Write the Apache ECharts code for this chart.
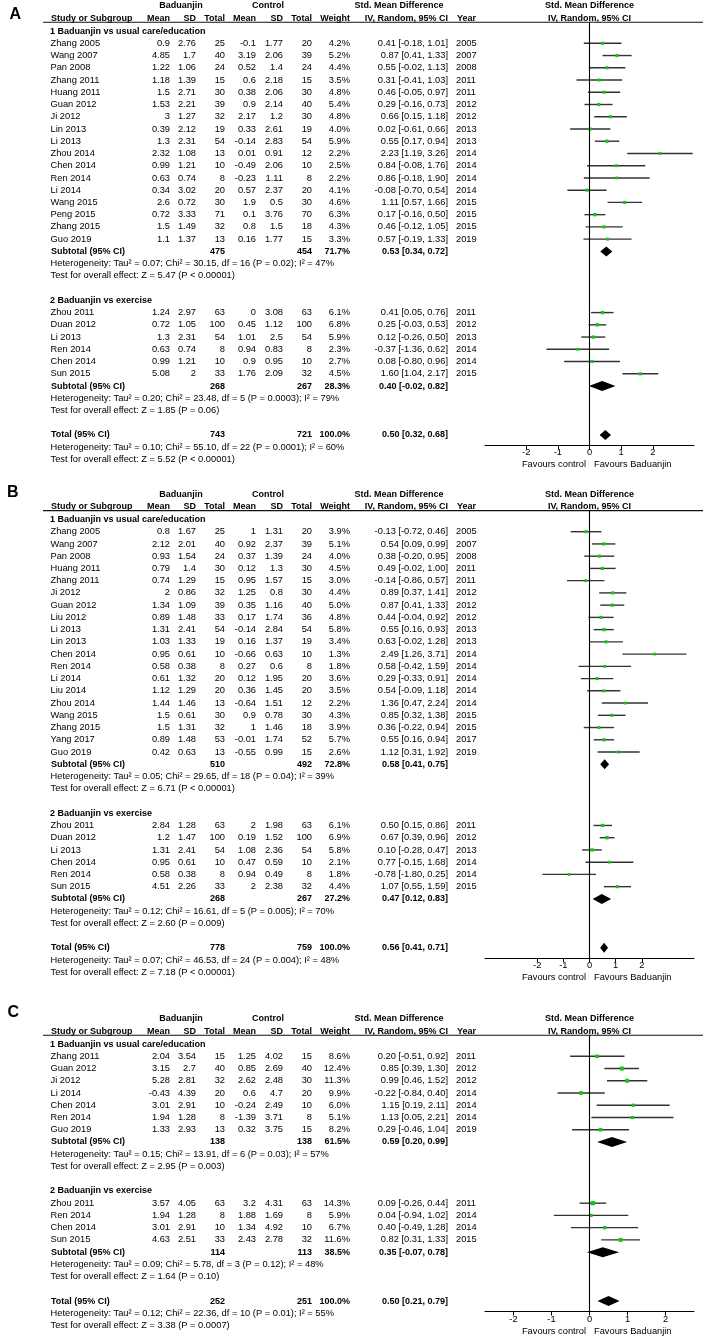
<!DOCTYPE html>
<html><head><meta charset="utf-8">
<script src="https://cdn.jsdelivr.net/npm/echarts@6/dist/echarts.min.js"></script>
<style>html,body{margin:0;padding:0;background:#fff}#c{width:704px;height:1339px}</style>
</head><body><div id="c"></div>
<script>
// ---------- DATA ----------
// row: [study, B mean, B SD, B total, C mean, C SD, C total, weight %, SMD, CI low, CI high, year]
const A_g1 = [
 ["Zhang 2005",0.9,2.76,25,-0.1,1.77,20,4.2,0.41,-0.18,1.01,2005],
 ["Wang 2007",4.85,1.7,40,3.19,2.06,39,5.2,0.87,0.41,1.33,2007],
 ["Pan 2008",1.22,1.06,24,0.52,1.4,24,4.4,0.55,-0.02,1.13,2008],
 ["Zhang 2011",1.18,1.39,15,0.6,2.18,15,3.5,0.31,-0.41,1.03,2011],
 ["Huang 2011",1.5,2.71,30,0.38,2.06,30,4.8,0.46,-0.05,0.97,2011],
 ["Guan 2012",1.53,2.21,39,0.9,2.14,40,5.4,0.29,-0.16,0.73,2012],
 ["Ji 2012",3,1.27,32,2.17,1.2,30,4.8,0.66,0.15,1.18,2012],
 ["Lin 2013",0.39,2.12,19,0.33,2.61,19,4.0,0.02,-0.61,0.66,2013],
 ["Li 2013",1.3,2.31,54,-0.14,2.83,54,5.9,0.55,0.17,0.94,2013],
 ["Zhou 2014",2.32,1.08,13,0.01,0.91,12,2.2,2.23,1.19,3.26,2014],
 ["Chen 2014",0.99,1.21,10,-0.49,2.06,10,2.5,0.84,-0.08,1.76,2014],
 ["Ren 2014",0.63,0.74,8,-0.23,1.11,8,2.2,0.86,-0.18,1.90,2014],
 ["Li 2014",0.34,3.02,20,0.57,2.37,20,4.1,-0.08,-0.70,0.54,2014],
 ["Wang 2015",2.6,0.72,30,1.9,0.5,30,4.6,1.11,0.57,1.66,2015],
 ["Peng 2015",0.72,3.33,71,0.1,3.76,70,6.3,0.17,-0.16,0.50,2015],
 ["Zhang 2015",1.5,1.49,32,0.8,1.5,18,4.3,0.46,-0.12,1.05,2015],
 ["Guo 2019",1.1,1.37,13,0.16,1.77,15,3.3,0.57,-0.19,1.33,2019]
];
const A_g1_sub = [475,454,71.7,0.53,0.34,0.72];
const A_g1_het = "Heterogeneity: Tau² = 0.07; Chi² = 30.15, df = 16 (P = 0.02); I² = 47%";
const A_g1_z = "Test for overall effect: Z = 5.47 (P < 0.00001)";
const A_g2 = [
 ["Zhou 2011",1.24,2.97,63,0,3.08,63,6.1,0.41,0.05,0.76,2011],
 ["Duan 2012",0.72,1.05,100,0.45,1.12,100,6.8,0.25,-0.03,0.53,2012],
 ["Li 2013",1.3,2.31,54,1.01,2.5,54,5.9,0.12,-0.26,0.50,2013],
 ["Ren 2014",0.63,0.74,8,0.94,0.83,8,2.3,-0.37,-1.36,0.62,2014],
 ["Chen 2014",0.99,1.21,10,0.9,0.95,10,2.7,0.08,-0.80,0.96,2014],
 ["Sun 2015",5.08,2,33,1.76,2.09,32,4.5,1.60,1.04,2.17,2015]
];
const A_g2_sub = [268,267,28.3,0.40,-0.02,0.82];
const A_g2_het = "Heterogeneity: Tau² = 0.20; Chi² = 23.48, df = 5 (P = 0.0003); I² = 79%";
const A_g2_z = "Test for overall effect: Z = 1.85 (P = 0.06)";
const A_tot = [743,721,100.0,0.50,0.32,0.68];
const A_tot_het = "Heterogeneity: Tau² = 0.10; Chi² = 55.10, df = 22 (P = 0.0001); I² = 60%";
const A_tot_z = "Test for overall effect: Z = 5.52 (P < 0.00001)";

const B_g1 = [
 ["Zhang 2005",0.8,1.67,25,1,1.31,20,3.9,-0.13,-0.72,0.46,2005],
 ["Wang 2007",2.12,2.01,40,0.92,2.37,39,5.1,0.54,0.09,0.99,2007],
 ["Pan 2008",0.93,1.54,24,0.37,1.39,24,4.0,0.38,-0.20,0.95,2008],
 ["Huang 2011",0.79,1.4,30,0.12,1.3,30,4.5,0.49,-0.02,1.00,2011],
 ["Zhang 2011",0.74,1.29,15,0.95,1.57,15,3.0,-0.14,-0.86,0.57,2011],
 ["Ji 2012",2,0.86,32,1.25,0.8,30,4.4,0.89,0.37,1.41,2012],
 ["Guan 2012",1.34,1.09,39,0.35,1.16,40,5.0,0.87,0.41,1.33,2012],
 ["Liu 2012",0.89,1.48,33,0.17,1.74,36,4.8,0.44,-0.04,0.92,2012],
 ["Li 2013",1.31,2.41,54,-0.14,2.84,54,5.8,0.55,0.16,0.93,2013],
 ["Lin 2013",1.03,1.33,19,0.16,1.37,19,3.4,0.63,-0.02,1.28,2013],
 ["Chen 2014",0.95,0.61,10,-0.66,0.63,10,1.3,2.49,1.26,3.71,2014],
 ["Ren 2014",0.58,0.38,8,0.27,0.6,8,1.8,0.58,-0.42,1.59,2014],
 ["Li 2014",0.61,1.32,20,0.12,1.95,20,3.6,0.29,-0.33,0.91,2014],
 ["Liu 2014",1.12,1.29,20,0.36,1.45,20,3.5,0.54,-0.09,1.18,2014],
 ["Zhou 2014",1.44,1.46,13,-0.64,1.51,12,2.2,1.36,0.47,2.24,2014],
 ["Wang 2015",1.5,0.61,30,0.9,0.78,30,4.3,0.85,0.32,1.38,2015],
 ["Zhang 2015",1.5,1.31,32,1,1.46,18,3.9,0.36,-0.22,0.94,2015],
 ["Yang 2017",0.89,1.48,53,-0.01,1.74,52,5.7,0.55,0.16,0.94,2017],
 ["Guo 2019",0.42,0.63,13,-0.55,0.99,15,2.6,1.12,0.31,1.92,2019]
];
const B_g1_sub = [510,492,72.8,0.58,0.41,0.75];
const B_g1_het = "Heterogeneity: Tau² = 0.05; Chi² = 29.65, df = 18 (P = 0.04); I² = 39%";
const B_g1_z = "Test for overall effect: Z = 6.71 (P < 0.00001)";
const B_g2 = [
 ["Zhou 2011",2.84,1.28,63,2,1.98,63,6.1,0.50,0.15,0.86,2011],
 ["Duan 2012",1.2,1.47,100,0.19,1.52,100,6.9,0.67,0.39,0.96,2012],
 ["Li 2013",1.31,2.41,54,1.08,2.36,54,5.8,0.10,-0.28,0.47,2013],
 ["Chen 2014",0.95,0.61,10,0.47,0.59,10,2.1,0.77,-0.15,1.68,2014],
 ["Ren 2014",0.58,0.38,8,0.94,0.49,8,1.8,-0.78,-1.80,0.25,2014],
 ["Sun 2015",4.51,2.26,33,2,2.38,32,4.4,1.07,0.55,1.59,2015]
];
const B_g2_sub = [268,267,27.2,0.47,0.12,0.83];
const B_g2_het = "Heterogeneity: Tau² = 0.12; Chi² = 16.61, df = 5 (P = 0.005); I² = 70%";
const B_g2_z = "Test for overall effect: Z = 2.60 (P = 0.009)";
const B_tot = [778,759,100.0,0.56,0.41,0.71];
const B_tot_het = "Heterogeneity: Tau² = 0.07; Chi² = 46.53, df = 24 (P = 0.004); I² = 48%";
const B_tot_z = "Test for overall effect: Z = 7.18 (P < 0.00001)";

const C_g1 = [
 ["Zhang 2011",2.04,3.54,15,1.25,4.02,15,8.6,0.20,-0.51,0.92,2011],
 ["Guan 2012",3.15,2.7,40,0.85,2.69,40,12.4,0.85,0.39,1.30,2012],
 ["Ji 2012",5.28,2.81,32,2.62,2.48,30,11.3,0.99,0.46,1.52,2012],
 ["Li 2014",-0.43,4.39,20,0.6,4.7,20,9.9,-0.22,-0.84,0.40,2014],
 ["Chen 2014",3.01,2.91,10,-0.24,2.49,10,6.0,1.15,0.19,2.11,2014],
 ["Ren 2014",1.94,1.28,8,-1.39,3.71,8,5.1,1.13,0.05,2.21,2014],
 ["Guo 2019",1.33,2.93,13,0.32,3.75,15,8.2,0.29,-0.46,1.04,2019]
];
const C_g1_sub = [138,138,61.5,0.59,0.20,0.99];
const C_g1_het = "Heterogeneity: Tau² = 0.15; Chi² = 13.91, df = 6 (P = 0.03); I² = 57%";
const C_g1_z = "Test for overall effect: Z = 2.95 (P = 0.003)";
const C_g2 = [
 ["Zhou 2011",3.57,4.05,63,3.2,4.31,63,14.3,0.09,-0.26,0.44,2011],
 ["Ren 2014",1.94,1.28,8,1.88,1.69,8,5.9,0.04,-0.94,1.02,2014],
 ["Chen 2014",3.01,2.91,10,1.34,4.92,10,6.7,0.40,-0.49,1.28,2014],
 ["Sun 2015",4.63,2.51,33,2.43,2.78,32,11.6,0.82,0.31,1.33,2015]
];
const C_g2_sub = [114,113,38.5,0.35,-0.07,0.78];
const C_g2_het = "Heterogeneity: Tau² = 0.09; Chi² = 5.78, df = 3 (P = 0.12); I² = 48%";
const C_g2_z = "Test for overall effect: Z = 1.64 (P = 0.10)";
const C_tot = [252,251,100.0,0.50,0.21,0.79];
const C_tot_het = "Heterogeneity: Tau² = 0.12; Chi² = 22.36, df = 10 (P = 0.01); I² = 55%";
const C_tot_z = "Test for overall effect: Z = 3.38 (P = 0.0007)";

const groupNames = ["1 Baduanjin vs usual care/education","2 Baduanjin vs exercise"];
const tickValues = [-2,-1,0,1,2];

// ---------- LAYOUT ----------
const FONT = '"Liberation Sans", Arial, Helvetica, sans-serif';
const REG = '9.3px ' + FONT;
const BOLD = 'bold 9px ' + FONT;
const STEP = 12.24;
const HLINE = -1.72, AXOFF = 0.85;

const PANELS = [
 {key:'A', first:43.3, R:3.3, g1:A_g1,s1:A_g1_sub,h1:A_g1_het,z1:A_g1_z,g2:A_g2,s2:A_g2_sub,h2:A_g2_het,z2:A_g2_z,tot:A_tot,th:A_tot_het,tz:A_tot_z, lt:7, ll:9.5},
 {key:'B', first:531.7, R:4.0, g1:B_g1,s1:B_g1_sub,h1:B_g1_het,z1:B_g1_z,g2:B_g2,s2:B_g2_sub,h2:B_g2_het,z2:B_g2_z,tot:B_tot,th:B_tot_het,tz:B_tot_z, lt:485, ll:7},
 {key:'C', first:1056.3, R:2.75, g1:C_g1,s1:C_g1_sub,h1:C_g1_het,z1:C_g1_z,g2:C_g2,s2:C_g2_sub,h2:C_g2_het,z2:C_g2_z,tot:C_tot,th:C_tot_het,tz:C_tot_z, lt:1005, ll:7.5}
];

function ci(e,l,h){ return e.toFixed(2)+' ['+l.toFixed(2)+', '+h.toFixed(2)+']'; }
function studyCells(r){
  return [
    {t:r[0],x:50.5,a:'left'},
    {t:String(r[1]),x:170,a:'right'},
    {t:String(r[2]),x:196,a:'right'},
    {t:String(r[3]),x:225,a:'right'},
    {t:String(r[4]),x:256,a:'right'},
    {t:String(r[5]),x:283,a:'right'},
    {t:String(r[6]),x:312,a:'right'},
    {t:r[7].toFixed(1)+'%',x:350,a:'right'},
    {t:ci(r[8],r[9],r[10]),x:448,a:'right'},
    {t:String(r[11]),x:456,a:'left'}
  ];
}
function sumCells(label,s){
  return [
    {t:label,x:51,a:'left',b:1},
    {t:String(s[0]),x:225,a:'right',b:1},
    {t:String(s[1]),x:312,a:'right',b:1},
    {t:s[2].toFixed(1)+'%',x:350,a:'right',b:1},
    {t:ci(s[3],s[4],s[5]),x:448,a:'right',b:1}
  ];
}
function build(p){
  const rows=[], marks=[];
  rows.push({y:-3.06, cells:[
    {t:'Baduanjin',x:181,a:'center',b:1},{t:'Control',x:268,a:'center',b:1},
    {t:'Std. Mean Difference',x:399,a:'center',b:1},{t:'Std. Mean Difference',zero:1,a:'center',b:1}]});
  rows.push({y:-2.05, cells:[
    {t:'Study or Subgroup',x:51,a:'left',b:1},{t:'Mean',x:170,a:'right',b:1},{t:'SD',x:196,a:'right',b:1},
    {t:'Total',x:225,a:'right',b:1},{t:'Mean',x:256,a:'right',b:1},{t:'SD',x:283,a:'right',b:1},
    {t:'Total',x:312,a:'right',b:1},{t:'Weight',x:350,a:'right',b:1},{t:'IV, Random, 95% CI',x:448,a:'right',b:1},
    {t:'Year',x:457,a:'left',b:1},{t:'IV, Random, 95% CI',zero:1,a:'center',b:1}]});
  rows.push({y:HLINE, hline:1, cells:[]});
  let y=-1;
  const groups=[[p.g1,p.s1,p.h1,p.z1],[p.g2,p.s2,p.h2,p.z2]];
  groups.forEach((g,gi)=>{
    rows.push({y, cells:[{t:groupNames[gi],x:50,a:'left',b:1}]}); y++;
    g[0].forEach(r=>{ rows.push({y, cells:studyCells(r)}); marks.push([r[8],y,r[9],r[10],r[7],0]); y++; });
    rows.push({y, cells:sumCells('Subtotal (95% CI)',g[1])}); marks.push([g[1][3],y,g[1][4],g[1][5],g[1][2],1]); y++;
    rows.push({y, cells:[{t:g[2],x:50.5,a:'left'}]}); y++;
    rows.push({y, cells:[{t:g[3],x:50.5,a:'left'}]}); y+=2;
  });
  const totIdx=y;
  rows.push({y, cells:sumCells('Total (95% CI)',p.tot)}); marks.push([p.tot[3],y,p.tot[4],p.tot[5],p.tot[2],1]); y++;
  rows.push({y, cells:[{t:p.th,x:50.5,a:'left'}]}); y++;
  rows.push({y, cells:[{t:p.tz,x:50.5,a:'left'}]});
  rows.push({y:totIdx+AXOFF, cells:[
    {t:'Favours control',zero:1,dx:-3.5,dy:19.5,a:'right'},
    {t:'Favours Baduanjin',zero:1,dx:4.5,dy:19.5,a:'left'}]});
  return {rows, marks, totIdx};
}

const built = PANELS.map(build);

function tableRender(rows){
  return function(params, api){
    const r = rows[params.dataIndex];
    const pt = api.coord([0, api.value(1)]);
    const yy = pt[1], x0 = pt[0];
    const children=[];
    if(r.hline) children.push({type:'line', shape:{x1:43,y1:yy,x2:703,y2:yy}, style:{stroke:'#111',lineWidth:1.1}});
    r.cells.forEach(c=>children.push({type:'text', style:{
      text:c.t, x:(c.zero? x0+(c.dx||0) : c.x), y:yy+(c.dy||0),
      align:c.a, verticalAlign:'middle', font:(c.b?BOLD:REG), fill:'#000'}}));
    return {type:'group', children};
  };
}
function forestRender(params, api){
  const est=api.value(0), row=api.value(1), lo=api.value(2), hi=api.value(3), w=api.value(4), kind=api.value(5);
  const c=api.coord([est,row]), l=api.coord([lo,row]), h=api.coord([hi,row]);
  if(kind===1){
    return {type:'polygon', shape:{points:[[l[0],c[1]],[c[0],c[1]-5],[h[0],c[1]],[c[0],c[1]+5]]}, style:{fill:'#000'}};
  }
  const s=2.6+0.12*w;
  return {type:'group', children:[
    {type:'line', shape:{x1:l[0],y1:c[1],x2:h[0],y2:c[1]}, style:{stroke:'#333',lineWidth:1.4}},
    {type:'rect', shape:{x:c[0]-s/2,y:c[1]-s/2,width:s,height:s}, style:{fill:'#12c812'}}
  ]};
}

const grids=[], xAxes=[], yAxes=[], series=[], titles=[];
PANELS.forEach((p,i)=>{
  const b=built[i];
  const ymax=b.totIdx+AXOFF;
  grids.push({left:485, width:209, top:p.first+HLINE*STEP, height:(ymax-HLINE)*STEP});
  xAxes.push({gridIndex:i, type:'value', min:-p.R, max:p.R,
    axisLine:{show:true, onZero:false, lineStyle:{color:'#000',width:1}},
    axisTick:{show:true, customValues:tickValues, length:4, lineStyle:{color:'#000',width:1}},
    axisLabel:{show:true, customValues:tickValues, margin:3, fontSize:9.3, color:'#000', fontFamily:FONT},
    splitLine:{show:false}});
  yAxes.push({gridIndex:i, type:'value', inverse:true, min:HLINE, max:ymax, show:false});
  titles.push({text:p.key, left:p.ll, top:p.lt, padding:0, textStyle:{fontSize:16, lineHeight:16, fontWeight:'bold', color:'#000', fontFamily:FONT}});
  series.push({type:'custom', xAxisIndex:i, yAxisIndex:i, clip:false, silent:true,
    renderItem:tableRender(b.rows), data:b.rows.map(r=>[0,r.y])});
  series.push({type:'custom', xAxisIndex:i, yAxisIndex:i, clip:false, silent:true,
    encode:{x:[0,2,3], y:1},
    renderItem:forestRender, data:b.marks,
    markLine:{silent:true, symbol:'none', label:{show:false}, animation:false,
      lineStyle:{color:'#000', width:1.1, type:'solid'}, data:[{xAxis:0}]}});
});

const chart = echarts.init(document.getElementById('c'), null, {renderer:'canvas'});
chart.setOption({animation:false, backgroundColor:'#fff', title:titles, grid:grids, xAxis:xAxes, yAxis:yAxes, series:series});
</script>
</body></html>
